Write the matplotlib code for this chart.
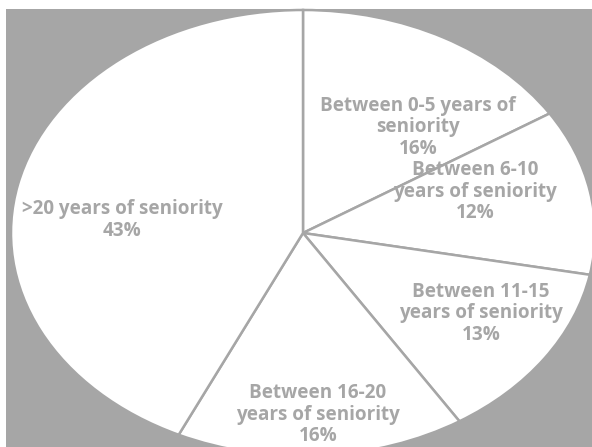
import matplotlib
matplotlib.use("Agg")
import matplotlib.pyplot as plt

categories = ["Between 0-5 years of\nseniority", "Between 6-10\nyears of seniority",
              "Between 11-15\nyears of seniority", "Between 16-20\nyears of seniority",
              ">20 years of seniority"]
values = [16, 12, 13, 16, 43]

GRAY = "#a6a6a6"
TEXT = "#a6a6a6"

W, H = 592, 447
fig = plt.figure(figsize=(W / 100, H / 100), dpi=100)
fig.patch.set_facecolor("white")
ax = fig.add_axes([6 / W, 0, (W - 6) / W, (H - 9) / H])

wedges, _ = ax.pie(values, startangle=90, counterclock=False, radius=1,
                   wedgeprops=dict(facecolor="white", edgecolor=GRAY, linewidth=1.8),
                   frame=True)
ax.set_aspect("auto")
ax.set_facecolor(GRAY)
for s in ax.spines.values():
    s.set_visible(False)
ax.set_xticks([]); ax.set_yticks([])

cx, cy, rx, ry = 303, 233, 292, 223
ax.set_xlim(-(cx - 6) / rx, (W - cx) / rx)
ax.set_ylim(-(H - cy) / ry, (cy - 9) / ry)

label_pos = [(0.394, 0.475), (0.589, 0.184), (0.610, -0.359), (0.051, -0.816), (-0.620, 0.058)]
for cat, v, (x, y) in zip(categories, values, label_pos):
    ax.text(x, y, f"{cat}\n{v}%", ha="center", va="center", ma="center",
            fontsize=13.6, fontweight="bold", family=["Open Sans", "DejaVu Sans"],
            color=TEXT, linespacing=1.1)

fig.savefig("out.png", dpi=100, facecolor="white")
